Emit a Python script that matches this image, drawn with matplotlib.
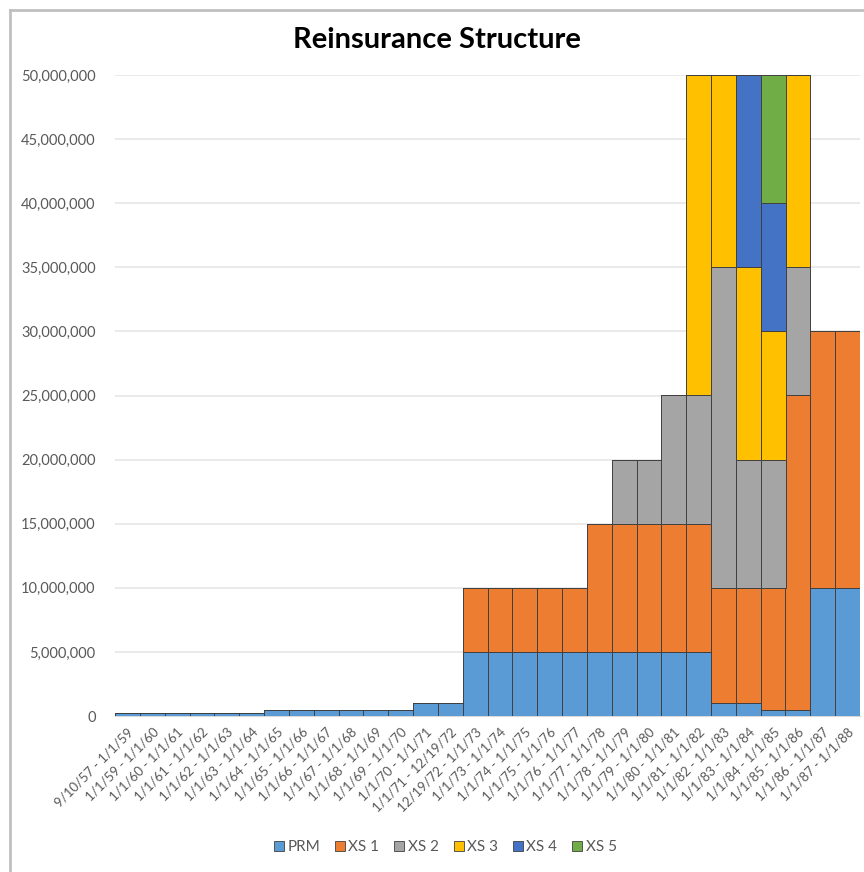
import matplotlib.pyplot as plt
from matplotlib.lines import Line2D
from matplotlib.ticker import FuncFormatter
import numpy as np

plt.rcParams['font.family'] = ['Lato', 'DejaVu Sans']

periods = [
    '9/10/57 - 1/1/59', '1/1/59 - 1/1/60', '1/1/60 - 1/1/61', '1/1/61 - 1/1/62',
    '1/1/62 - 1/1/63', '1/1/63 - 1/1/64', '1/1/64 - 1/1/65', '1/1/65 - 1/1/66',
    '1/1/66 - 1/1/67', '1/1/67 - 1/1/68', '1/1/68 - 1/1/69', '1/1/69 - 1/1/70',
    '1/1/70 - 1/1/71', '1/1/71 - 12/19/72', '12/19/72 - 1/1/73', '1/1/73 - 1/1/74',
    '1/1/74 - 1/1/75', '1/1/75 - 1/1/76', '1/1/76 - 1/1/77', '1/1/77 - 1/1/78',
    '1/1/78 - 1/1/79', '1/1/79 - 1/1/80', '1/1/80 - 1/1/81', '1/1/81 - 1/1/82',
    '1/1/82 - 1/1/83', '1/1/83 - 1/1/84', '1/1/84 - 1/1/85', '1/1/85 - 1/1/86',
    '1/1/86 - 1/1/87', '1/1/87 - 1/1/88',
]

# layer sizes per period (dollars)
prm = [200000] * 6 + [500000] * 6 + [1000000] * 2 + [5000000] * 10 \
    + [1000000, 1000000, 500000, 500000, 10000000, 10000000]
xs1 = [0] * 14 + [5000000] * 5 + [10000000] * 5 \
    + [9000000, 9000000, 9500000, 24500000, 20000000, 20000000]
xs2 = [0] * 20 + [5000000, 5000000, 10000000, 10000000] \
    + [25000000, 10000000, 10000000, 10000000, 0, 0]
xs3 = [0] * 23 + [25000000] \
    + [15000000, 15000000, 10000000, 15000000, 0, 0]
xs4 = [0] * 24 + [0, 15000000, 10000000, 0, 0, 0]
xs5 = [0] * 24 + [0, 0, 10000000, 0, 0, 0]

layers = ['PRM', 'XS 1', 'XS 2', 'XS 3', 'XS 4', 'XS 5']
colors = ['#5B9BD5', '#ED7D31', '#A5A5A5', '#FFC000', '#4472C4', '#70AD47']

fig = plt.figure(figsize=(8.64, 8.72), dpi=100)
ax = fig.add_axes([115 / 864, 1 - 716 / 872, 745 / 864, 641 / 872])

x = np.arange(len(periods))
bottom = np.zeros(len(periods))
for name, vals, c in zip(layers, [prm, xs1, xs2, xs3, xs4, xs5], colors):
    vals = np.array(vals, dtype=float)
    ax.bar(x, vals, width=1.0, bottom=bottom, color=c, edgecolor='#404040',
           linewidth=0.7, label=name, zorder=3)
    bottom += vals

ax.set_xlim(-0.5, len(periods) - 0.5)
ax.set_ylim(0, 50000000)
ax.set_yticks(np.arange(0, 50000001, 5000000))
ax.yaxis.set_major_formatter(FuncFormatter(lambda v, p: f'{int(v):,}'))
ax.grid(axis='y', color='#E6E6E6', linewidth=1.2, zorder=0)
ax.tick_params(axis='y', length=0, pad=14, labelsize=10.5, labelcolor='#595959')
ax.set_xticks(x)
ax.set_xticklabels(periods, rotation=45, ha='right', rotation_mode='anchor',
                   fontsize=9.5, color='#595959')
ax.tick_params(axis='x', length=0, pad=7)
for s in ['top', 'right', 'left']:
    ax.spines[s].set_visible(False)
ax.spines['bottom'].set_color('#D9D9D9')

fig.text(437 / 864, 1 - 40 / 872, 'Reinsurance Structure', ha='center', va='center',
         fontsize=21, fontweight='bold')

handles = [Line2D([], [], marker='s', linestyle='none', markersize=7,
                  markerfacecolor=c, markeredgecolor='#404040', markeredgewidth=0.6)
           for c in colors]
fig.legend(handles, layers, loc='center', bbox_to_anchor=(444 / 864, 1 - 847 / 872),
           ncol=6, frameon=False, fontsize=11, handletextpad=0.05, columnspacing=0.8,
           handlelength=1.0, labelcolor='#595959')

# outer chart border on left and top
fig.add_artist(Line2D([10 / 864, 10 / 864], [0, 1 - 10 / 872], color='#C0C0C0', linewidth=2))
fig.add_artist(Line2D([10 / 864, 1], [1 - 10 / 872, 1 - 10 / 872], color='#C0C0C0', linewidth=2))

fig.savefig('out.png', dpi=100)
